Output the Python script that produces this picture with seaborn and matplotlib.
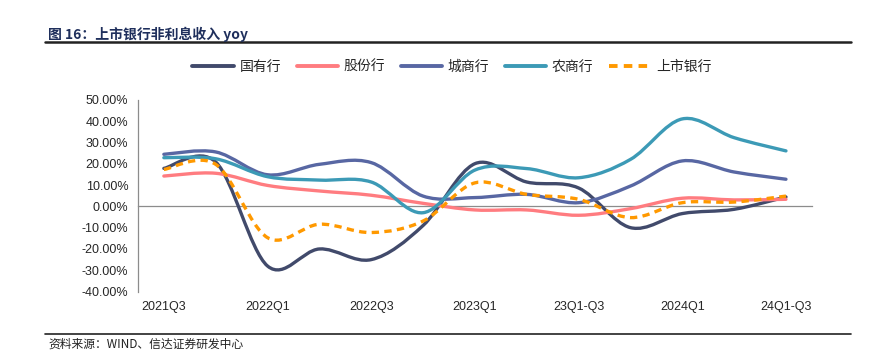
import matplotlib
matplotlib.use("Agg")
import matplotlib.pyplot as plt
import seaborn as sns
import numpy as np
import pandas as pd
from matplotlib.path import Path
from matplotlib.patches import PathPatch

# ---- data ----
periods = ['2021Q3', '2021Q4', '2022Q1', '2022Q2', '2022Q3', '2022Q4', '2023Q1',
           '23Q1-Q2', '23Q1-Q3', '2023Q4', '2024Q1', '24Q1-Q2', '24Q1-Q3']
state_banks = [17.8, 20.8, -28.0, -20.0, -25.0, -9.0, 20.0, 11.4, 8.6, -10.0, -3.4, -1.4, 4.4]
joint_stock = [14.2, 15.5, 9.8, 7.2, 5.2, 1.4, -1.7, -1.7, -4.2, -1.1, 3.8, 3.0, 3.3]
city_banks = [24.4, 25.5, 14.8, 19.7, 20.5, 4.8, 4.1, 5.6, 1.7, 9.5, 21.3, 16.1, 12.7]
rural_banks = [22.8, 22.3, 13.9, 12.3, 11.4, -3.0, 17.0, 17.7, 13.4, 22.0, 41.0, 32.2, 26.0]
listed_banks = [17.3, 19.7, -14.7, -8.4, -12.3, -6.9, 11.0, 5.6, 3.3, -5.3, 1.7, 2.0, 4.8]

series_names = ['国有行', '股份行', '城商行', '农商行', '上市银行']
series_values = [state_banks, joint_stock, city_banks, rural_banks, listed_banks]
colors = ['#414A6B', '#FF7C80', '#5867A3', '#3C9AB6', '#FF9900']

df = pd.DataFrame({
    'idx': np.tile(np.arange(len(periods)), len(series_names)),
    'val': np.concatenate(series_values),
    'series': np.repeat(series_names, len(periods)),
})

sns.set_style("white")
plt.rcParams['font.family'] = ['Liberation Sans', 'Noto Sans CJK SC', 'DejaVu Sans']

fig = plt.figure(figsize=(8.73, 3.6), dpi=100)
ax = fig.add_axes([0.158, 0.19, 0.772, 0.533])

palette = dict(zip(series_names, colors))
dashes = {n: '' for n in series_names}
dashes['上市银行'] = (2.2, 1.6)
sns.lineplot(data=df, x='idx', y='val', hue='series', style='series',
             palette=palette, dashes=dashes, linewidth=2.4, ax=ax, legend=True)


def smooth_path(x, y):
    """Catmull-Rom style bezier path, similar to Excel smoothed lines."""
    pts = np.column_stack([x, y]).astype(float)
    n = len(pts)
    verts = [pts[0]]
    codes = [Path.MOVETO]
    for i in range(n - 1):
        p0 = pts[i - 1] if i > 0 else pts[i]
        p1, p2 = pts[i], pts[i + 1]
        p3 = pts[i + 2] if i + 2 < n else pts[i + 1]
        c1 = p1 + (p2 - p0) / 6.0
        c2 = p2 - (p3 - p1) / 6.0
        verts += [c1, c2, p2]
        codes += [Path.CURVE4] * 3
    return Path(verts, codes)


# replace straight segments with smoothed curves
for line, name in zip(ax.get_lines()[:len(series_names)], series_names):
    xd, yd = line.get_xdata(), line.get_ydata()
    line.set_visible(False)
    patch = PathPatch(smooth_path(xd, yd), facecolor='none', edgecolor=palette[name],
                      lw=2.4, linestyle=(0, (2.2, 1.6)) if name == '上市银行' else '-',
                      capstyle='round' if name != '上市银行' else 'butt', zorder=3)
    ax.add_patch(patch)

ax.set_xlim(-0.5, len(periods) - 0.5)
ax.set_ylim(-40, 50)
ax.set_yticks(np.arange(-40, 51, 10))
ax.set_yticklabels([f'{v:.2f}%' for v in np.arange(-40, 51, 10)], fontsize=9)
ax.set_xlabel('')
ax.set_ylabel('')

# category axis sits at zero, labels stay at the bottom
ax.spines['bottom'].set_position(('data', 0))
ax.spines['top'].set_visible(False)
ax.spines['right'].set_visible(False)
for s in ['bottom', 'left']:
    ax.spines[s].set_color('#8C8C8C')
    ax.spines[s].set_linewidth(0.9)
ax.set_xticks(np.arange(-0.5, len(periods), 1.0))
ax.set_xticklabels([])
ax.tick_params(axis='x', which='major', length=4, color='#8C8C8C', direction='out')
ax.set_xticks(np.arange(0, len(periods), 2), minor=True)
ax.set_xticklabels(periods[::2], minor=True, fontsize=9)
ax.tick_params(axis='x', which='minor', length=0, pad=68)
ax.tick_params(axis='y', length=4, color='#8C8C8C', direction='out', pad=3)

handles, labels = ax.get_legend_handles_labels()
for h in handles:
    h.set_linewidth(2.8)
ax.legend(handles, labels, loc='center', bbox_to_anchor=(0.466, 1.17), ncol=5,
          frameon=False, handlelength=3.0, handletextpad=0.4,
          columnspacing=1.1, prop={'family': ['Noto Sans CJK SC'], 'size': 10})

# header / footer
fig.text(0.055, 0.905, '图 16：上市银行非利息收入 yoy', fontsize=10, fontweight='bold',
         color='#1F2F5C', family=['Noto Sans CJK SC', 'DejaVu Sans'], va='center')
fig.add_artist(plt.Line2D([0.052, 0.975], [0.883, 0.883], color='#222222', lw=1.8))
fig.add_artist(plt.Line2D([0.052, 0.975], [0.072, 0.072], color='#222222', lw=1.2))
fig.text(0.055, 0.045, '资料来源：WIND、信达证券研发中心', fontsize=8.5, style='italic',
         color='#222222', family=['Noto Sans CJK SC', 'DejaVu Sans'], va='center')

fig.savefig('out.png', dpi=100)
plt.close(fig)
